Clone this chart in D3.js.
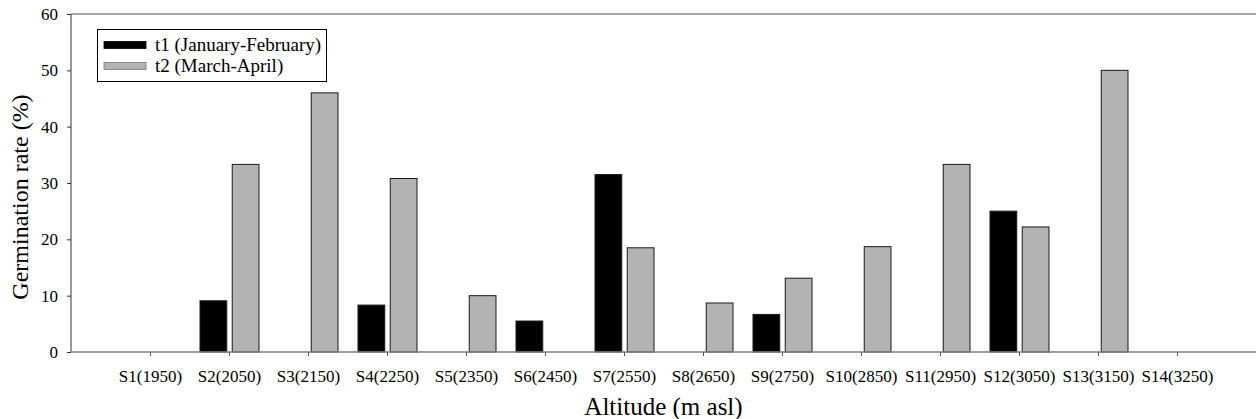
<!DOCTYPE html>
<html>
<head>
<meta charset="utf-8">
<script src="https://cdn.jsdelivr.net/npm/d3@7"></script>
<style>
  html, body { margin: 0; padding: 0; background: #fff; }
  svg { display: block; font-family: "Liberation Serif", "Times New Roman", serif; }
</style>
</head>
<body>
<svg id="chart" width="1256" height="419"></svg>
<script>
// Sites with their altitude (m asl)
const sites = ["S1(1950)", "S2(2050)", "S3(2150)", "S4(2250)", "S5(2350)", "S6(2450)", "S7(2550)",
               "S8(2650)", "S9(2750)", "S10(2850)", "S11(2950)", "S12(3050)", "S13(3150)", "S14(3250)"];
// Germination rate (%) per sowing period
const t1 = [0, 9.09, 0, 8.33, 0, 5.5, 31.5, 0, 6.67, 0, 0, 25, 0, 0];
const t2 = [0, 33.3, 46, 30.8, 10, 0, 18.5, 8.7, 13.1, 18.7, 33.3, 22.2, 50, 0];
const seriesNames = ["t1 (January-February)", "t2 (March-April)"];
const yTicks = [0, 10, 20, 30, 40, 50, 60];

const svg = d3.select("#chart");
const plotL = 71, plotR = 1256, plotT = 14, plotB = 352;

const x = d3.scalePoint().domain(sites).range([plotL, plotR]).padding(1);
const y = d3.scaleLinear().domain([0, 60]).range([plotB, plotT]);
const sub = d3.scaleBand().domain([0, 1]).range([-29, 30]).paddingInner(0.17);
const fills = ["#000000", "#b3b3b3"];

const rows = sites.map((s, i) => ({ site: s, vals: [t1[i], t2[i]] }));

// Top frame line
svg.append("line").attr("x1", plotL).attr("x2", plotR).attr("y1", plotT).attr("y2", plotT)
  .attr("stroke", "#8a8a8a").attr("stroke-width", 1.5);

// Bars
const g = svg.append("g");
rows.forEach(r => {
  r.vals.forEach((v, k) => {
    if (v <= 0) return;
    g.append("rect")
      .attr("x", x(r.site) + sub(k))
      .attr("y", y(v))
      .attr("width", sub.bandwidth())
      .attr("height", y(0) - y(v))
      .attr("fill", fills[k])
      .attr("stroke", "#1a1a1a")
      .attr("stroke-width", 1);
  });
});

// Y axis
const yAxis = svg.append("g").attr("transform", `translate(${plotL},0)`)
  .call(d3.axisLeft(y).tickValues(yTicks).tickSize(4).tickPadding(9).tickFormat(d3.format("d")));
yAxis.select(".domain").attr("stroke", "#333").attr("d", `M0,${plotB}V${plotT}`);
yAxis.selectAll(".tick line").attr("stroke", "#333");
yAxis.selectAll("text").attr("font-size", 17).attr("fill", "#000")
  .attr("font-family", "Liberation Serif, serif");

// X axis
const xAxis = svg.append("g").attr("transform", `translate(0,${plotB})`)
  .call(d3.axisBottom(x).tickSize(4).tickPadding(14));
xAxis.select(".domain").attr("stroke", "#808080").attr("stroke-width", 1.3).attr("d", `M${plotL},0H${plotR}`);
xAxis.selectAll(".tick line").attr("stroke", "#555");
xAxis.selectAll("text").attr("font-size", 17).attr("fill", "#000")
  .attr("font-family", "Liberation Serif, serif");

// Axis titles
svg.append("text")
  .attr("transform", `translate(28,${(plotT + plotB) / 2 + 14}) rotate(-90)`)
  .attr("text-anchor", "middle").attr("font-size", 24).text("Germination rate (%)");
svg.append("text")
  .attr("x", (plotL + plotR) / 2).attr("y", 415)
  .attr("text-anchor", "middle").attr("font-size", 25).text("Altitude (m asl)");

// Legend
const lg = svg.append("g");
lg.append("rect").attr("x", 97.5).attr("y", 29.5).attr("width", 229).attr("height", 52)
  .attr("fill", "#fff").attr("stroke", "#000").attr("stroke-width", 1);
seriesNames.forEach((name, k) => {
  const cy = 45 + k * 21;
  lg.append("rect").attr("x", 104).attr("y", cy - 3.5).attr("width", 42).attr("height", 7)
    .attr("fill", fills[k]).attr("stroke", k ? "#777" : "#000").attr("stroke-width", 0.8);
  lg.append("text").attr("x", 155).attr("y", cy + 6).attr("font-size", 19).text(name);
});
</script>
</body>
</html>
